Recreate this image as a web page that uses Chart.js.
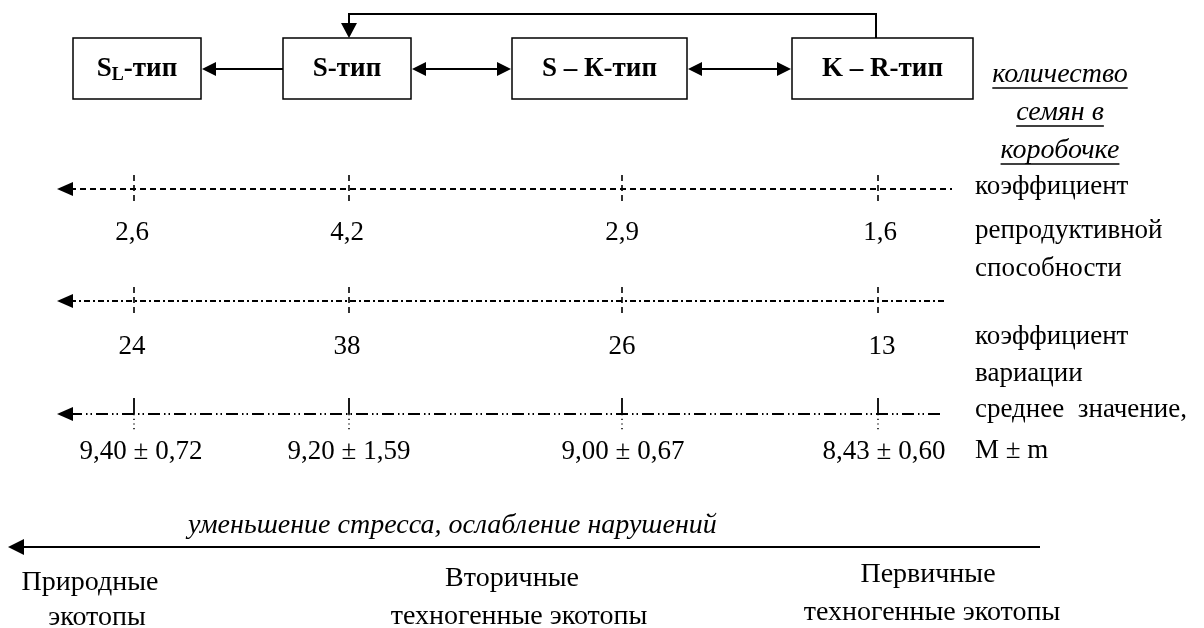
<!DOCTYPE html>
<html>
<head>
<meta charset="utf-8">
<script src="https://cdn.jsdelivr.net/npm/chart.js@4.4.0/dist/chart.umd.min.js"></script>
<style>
html, body { margin: 0; padding: 0; background: #fff; }
canvas { display: block; }
</style>
</head>
<body>
<canvas id="scheme" width="1204" height="628"></canvas>
<script>
// strategy types (box labels: base, subscript, suffix)
const typeBase = ['S', 'S', 'S – К', 'K – R'];
const typeSub = ['L', '', '', ''];
const typeSuffix = '-тип';

// values per type, left to right
const reproCoef = [2.6, 4.2, 2.9, 1.6];
const variationCoef = [24, 38, 26, 13];
const meanValue = [9.40, 9.20, 9.00, 8.43];
const meanError = [0.72, 1.59, 0.67, 0.60];

const rowTitles = [
    ['коэффициент', 'репродуктивной', 'способности'],
    ['коэффициент', 'вариации'],
    ['среднее  значение,', 'M ± m']
];
const seedTitle = ['количество', 'семян в', 'коробочке'];
const gradientLabel = 'уменьшение стресса, ослабление нарушений';
const habitats = [
    ['Природные', 'экотопы'],
    ['Вторичные', 'техногенные экотопы'],
    ['Первичные', 'техногенные экотопы']
];

// layout (diagram units = pixels of the 1204x628 sheet)
const colX = [134, 349, 622, 878];
const rowY = [189, 301, 414];
const boxes = [[73, 201], [283, 411], [512, 687], [792, 973]];
const boxTop = 38, boxBottom = 99;
const serif = '"Liberation Serif", "Times New Roman", serif';

function fmt(v, d) {
    return v.toFixed(d).replace('.', ',');
}

const rowLabels = [
    reproCoef.map(v => fmt(v, 1)),
    variationCoef.map(v => String(v)),
    meanValue.map((v, i) => fmt(v, 2) + ' ± ' + fmt(meanError[i], 2))
];

function arrowHead(ctx, tipX, tipY, dir, len, half) {
    // dir: 'left' | 'right' | 'down'
    ctx.beginPath();
    ctx.moveTo(tipX, tipY);
    if (dir === 'left') {
        ctx.lineTo(tipX + len, tipY - half);
        ctx.lineTo(tipX + len, tipY + half);
    } else if (dir === 'right') {
        ctx.lineTo(tipX - len, tipY - half);
        ctx.lineTo(tipX - len, tipY + half);
    } else {
        ctx.lineTo(tipX - half, tipY - len);
        ctx.lineTo(tipX + half, tipY - len);
    }
    ctx.closePath();
    ctx.fill();
}

function seg(ctx, x1, y1, x2, y2, dash, width) {
    ctx.save();
    ctx.setLineDash(dash || []);
    ctx.lineWidth = width || 1.5;
    ctx.beginPath();
    ctx.moveTo(x1, y1);
    ctx.lineTo(x2, y2);
    ctx.stroke();
    ctx.restore();
}

function text(ctx, str, x, y, font, align) {
    ctx.font = font;
    ctx.textAlign = align || 'center';
    ctx.textBaseline = 'middle';
    ctx.fillText(str, x, y);
}

const rowDash = [[6, 4], [6, 3, 2, 3], [12, 4, 1.5, 3, 1.5, 4]];
const rowEnd = [952, 945, 940];
const labelDy = [44, 46, 38];
const labelDx = [[-2, -2, 0, 2], [-2, -2, 0, 4], [7, 0, 1, 6]];

const schemePlugin = {
    id: 'scheme',
    afterDatasetsDraw(chart) {
        const ctx = chart.ctx;
        const sx = chart.scales.x, sy = chart.scales.y;
        const X = v => sx.getPixelForValue(v);
        const Y = v => sy.getPixelForValue(v);
        ctx.save();
        ctx.fillStyle = '#000';
        ctx.strokeStyle = '#000';

        // boxes
        boxes.forEach((b, i) => {
            ctx.lineWidth = 1.5;
            ctx.strokeRect(X(b[0]), Y(boxTop), X(b[1]) - X(b[0]), Y(boxBottom) - Y(boxTop));
            const cx = (X(b[0]) + X(b[1])) / 2, cy = Y(69);
            const main = 'bold 27px ' + serif, sub = 'bold 18px ' + serif;
            ctx.font = main;
            const w1 = ctx.measureText(typeBase[i]).width;
            const w3 = ctx.measureText(typeSuffix).width;
            ctx.font = sub;
            const w2 = typeSub[i] ? ctx.measureText(typeSub[i]).width : 0;
            let x0 = cx - (w1 + w2 + w3) / 2;
            text(ctx, typeBase[i], x0, cy, main, 'left');
            if (typeSub[i]) text(ctx, typeSub[i], x0 + w1, cy + 6, sub, 'left');
            text(ctx, typeSuffix, x0 + w1 + w2, cy, main, 'left');
        });

        // links between boxes
        const ly = Y(69);
        seg(ctx, X(boxes[1][0]), ly, X(boxes[0][1]) + 13, ly, [], 2);
        arrowHead(ctx, X(boxes[0][1]) + 1, ly, 'left', 14, 7);
        for (let i = 1; i < 3; i++) {
            const a = X(boxes[i][1]) + 1, b = X(boxes[i + 1][0]) - 1;
            seg(ctx, a + 12, ly, b - 12, ly, [], 2);
            arrowHead(ctx, a, ly, 'left', 14, 7);
            arrowHead(ctx, b, ly, 'right', 14, 7);
        }
        // feedback K-R -> S
        ctx.lineWidth = 2;
        ctx.beginPath();
        ctx.moveTo(X(876), Y(boxTop));
        ctx.lineTo(X(876), Y(14));
        ctx.lineTo(X(349), Y(14));
        ctx.lineTo(X(349), Y(boxTop) - 12);
        ctx.stroke();
        arrowHead(ctx, X(349), Y(boxTop), 'down', 15, 8);

        // seed title
        const italic = 'italic 28px ' + serif;
        [75, 113, 151].forEach((yy, i) => {
            text(ctx, seedTitle[i], X(1060), Y(yy), italic);
            ctx.font = italic;
            const w = ctx.measureText(seedTitle[i]).width;
            seg(ctx, X(1060) - w / 2, Y(yy) + 13, X(1060) + w / 2, Y(yy) + 13, [], 1.3);
        });

        const plain = '27px ' + serif;
        // rows
        chart.data.datasets.forEach((ds, r) => {
            const y = Y(rowY[r]);
            seg(ctx, X(70), y, X(rowEnd[r]), y, rowDash[r], 1.8);
            arrowHead(ctx, X(57), y, 'left', 16, 7);
            const meta = chart.getDatasetMeta(r);
            meta.data.forEach((pt, i) => {
                const px = pt.x;
                if (r === 2) {
                    seg(ctx, px, y - 16, px, y, [], 1.8);
                    seg(ctx, px, y, px, y + 18, [1.2, 3.5], 1.5);
                } else {
                    seg(ctx, px, y - 14, px, y + 15, [6, 4], 1.6);
                }
                text(ctx, ds.data[i].label, px + labelDx[r][i], y + labelDy[r], plain);
            });
        });

        // row titles
        const titleY = [[187, 231, 269], [337, 374], [410, 451]];
        rowTitles.forEach((lines, r) => {
            lines.forEach((s, k) => text(ctx, s, X(975), Y(titleY[r][k]), plain, 'left'));
        });

        // gradient arrow
        text(ctx, gradientLabel, X(188), Y(526), 'italic 28px ' + serif, 'left');
        seg(ctx, X(1040), Y(547), X(22), Y(547), [], 2);
        arrowHead(ctx, X(8), Y(547), 'left', 16, 8);

        const habX = [[90, 97], [512, 519], [928, 932]];
        const habY = [[583, 618], [579, 617], [575, 613]];
        habitats.forEach((lines, h) => {
            lines.forEach((s, k) => text(ctx, s, X(habX[h][k]), Y(habY[h][k]), '28px ' + serif));
        });

        ctx.restore();
    }
};

const datasets = rowLabels.map((labels, r) => ({
    label: rowTitles[r].join(' '),
    data: labels.map((l, i) => ({ x: colX[i], y: rowY[r], label: l })),
    pointRadius: 0,
    showLine: false
}));

new Chart(document.getElementById('scheme'), {
    type: 'scatter',
    data: { datasets: datasets },
    options: {
        responsive: false,
        animation: false,
        events: [],
        layout: { padding: 0 },
        plugins: { legend: { display: false }, tooltip: { enabled: false } },
        scales: {
            x: { type: 'linear', min: 0, max: 1204, display: false },
            y: { type: 'linear', min: 0, max: 628, reverse: true, display: false }
        }
    },
    plugins: [schemePlugin]
});
</script>
</body>
</html>
